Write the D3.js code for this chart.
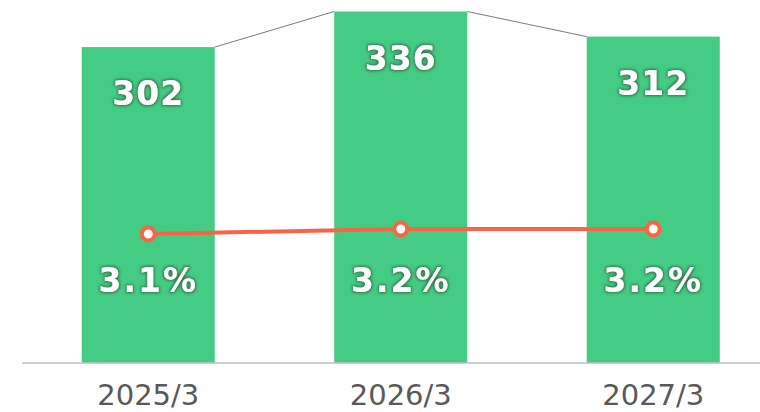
<!DOCTYPE html>
<html>
<head>
<meta charset="utf-8">
<script src="https://cdnjs.cloudflare.com/ajax/libs/d3/7.8.5/d3.min.js"></script>
<style>
  body { margin: 0; background: #fff; }
  svg { display: block; }
</style>
</head>
<body>
<div class="chart"></div>
<script>
// data
var categories = ["2025/3", "2026/3", "2027/3"];
var barValues = [302, 336, 312];
var pctValues = [3.1, 3.2, 3.2];
var pctLabels = ["3.1%", "3.2%", "3.2%"];

var svgWidth = 760;
var svgHeight = 412;
var baseY = 363;

var svg = d3.select("div.chart").append("svg")
      .attr("width", svgWidth)
      .attr("height", svgHeight);

// glow behind the white labels
var defs = svg.append("defs");
var glow = defs.append("filter")
      .attr("id", "glow")
      .attr("x", "-20%").attr("y", "-30%")
      .attr("width", "140%").attr("height", "160%");
glow.append("feMorphology")
      .attr("in", "SourceAlpha").attr("operator", "dilate").attr("radius", 1.2)
      .attr("result", "thick");
glow.append("feGaussianBlur")
      .attr("in", "thick").attr("stdDeviation", 1.8).attr("result", "blur");
glow.append("feFlood").attr("flood-color", "#2c7549").attr("flood-opacity", 1);
glow.append("feComposite").attr("in2", "blur").attr("operator", "in").attr("result", "shadow");
var merge = glow.append("feMerge");
merge.append("feMergeNode").attr("in", "shadow");
merge.append("feMergeNode").attr("in", "SourceGraphic");

// scales
var xScale = d3.scaleBand()
      .domain(categories)
      .range([22, 779.5])
      .paddingInner(0.473)
      .paddingOuter(0.2365);

var yScale = d3.scaleLinear()
      .domain([0, 347])
      .range([baseY, 0]);

var yPct = d3.scaleLinear()
      .domain([0, 7.78])
      .range([389, 0]);

// bars
svg.selectAll("rect.bar")
      .data(barValues)
      .enter()
      .append("rect")
      .attr("class", "bar")
      .attr("x", (d, i) => xScale(categories[i]))
      .attr("y", d => yScale(d))
      .attr("width", xScale.bandwidth())
      .attr("height", d => baseY - yScale(d))
      .attr("fill", "#45cc84");

// thin connectors between bar tops
for (var i = 0; i < barValues.length - 1; i++) {
  svg.append("line")
      .attr("x1", xScale(categories[i]) + xScale.bandwidth())
      .attr("y1", yScale(barValues[i]))
      .attr("x2", xScale(categories[i + 1]))
      .attr("y2", yScale(barValues[i + 1]))
      .attr("stroke", "#7a7a7a")
      .attr("stroke-width", 1);
}

// x axis
var xAxis = d3.axisBottom(xScale).tickSize(0).tickPadding(0);
var axisG = svg.append("g")
      .attr("transform", `translate(0, ${baseY})`)
      .call(xAxis);
axisG.select(".domain").remove();
axisG.append("line")
      .attr("x1", 22).attr("x2", 760)
      .attr("y1", 0).attr("y2", 0)
      .attr("stroke", "#bfbfbf")
      .attr("stroke-width", 1.5);
axisG.selectAll(".tick text")
      .attr("y", 42)
      .attr("dy", null)
      .attr("fill", "#595959")
      .style("font-family", "'DejaVu Sans', sans-serif")
      .style("font-size", "29px");

// bar value labels
svg.selectAll("text.val")
      .data(barValues)
      .enter()
      .append("text")
      .attr("class", "val")
      .attr("x", (d, i) => xScale(categories[i]) + xScale.bandwidth() / 2)
      .attr("y", d => yScale(d) + 58)
      .attr("text-anchor", "middle")
      .attr("fill", "#fff")
      .attr("filter", "url(#glow)")
      .style("font-family", "'DejaVu Sans', sans-serif")
      .style("font-weight", "bold")
      .style("font-size", "33px")
      .style("letter-spacing", "1px")
      .text(d => d);

// percentage line
var line = d3.line()
      .x((d, i) => xScale(categories[i]) + xScale.bandwidth() / 2)
      .y(d => yPct(d));

svg.append("path")
      .datum(pctValues)
      .attr("d", line)
      .attr("fill", "none")
      .attr("stroke", "#f96446")
      .attr("stroke-width", 4);

svg.selectAll("circle.pt")
      .data(pctValues)
      .enter()
      .append("circle")
      .attr("class", "pt")
      .attr("cx", (d, i) => xScale(categories[i]) + xScale.bandwidth() / 2)
      .attr("cy", d => yPct(d))
      .attr("r", 6.5)
      .attr("fill", "#fff")
      .attr("stroke", "#f96446")
      .attr("stroke-width", 4);

// percentage labels
svg.selectAll("text.pct")
      .data(pctLabels)
      .enter()
      .append("text")
      .attr("class", "pct")
      .attr("x", (d, i) => xScale(categories[i]) + xScale.bandwidth() / 2)
      .attr("y", 292)
      .attr("text-anchor", "middle")
      .attr("fill", "#fff")
      .attr("filter", "url(#glow)")
      .style("font-family", "'DejaVu Sans', sans-serif")
      .style("font-weight", "bold")
      .style("font-size", "33px")
      .style("letter-spacing", "2px")
      .text(d => d);
</script>
</body>
</html>
